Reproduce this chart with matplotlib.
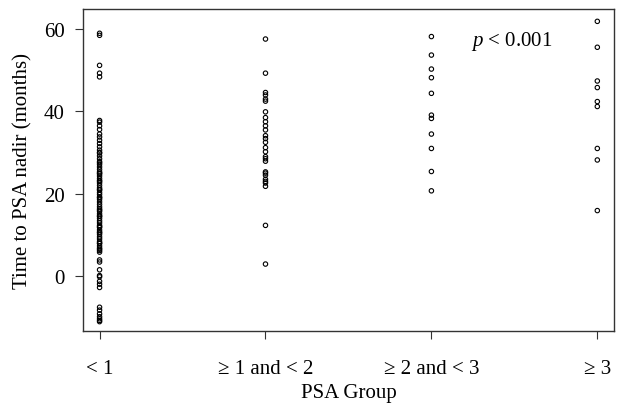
import numpy as np
import matplotlib.pyplot as plt

plt.rcParams['font.family'] = ['Liberation Serif', 'DejaVu Serif']
plt.rcParams['mathtext.fontset'] = 'custom'
plt.rcParams['mathtext.it'] = 'Liberation Serif:italic'
plt.rcParams['mathtext.rm'] = 'Liberation Serif'

# Groups and values (months to PSA nadir)
grupos = ['< 1', '≥ 1 and < 2', '≥ 2 and < 3', '≥ 3']

g0 = [59.0, 58.5, 51.2, 49.3, 48.4, 37.8, 37.4, 36.5, 35.6, 34.5, 33.8, 33.0,
      32.2, 31.4, 30.6, 29.9, 29.2, 28.5, 27.8, 27.1, 26.5, 25.9, 25.3, 24.8,
      24.3, 23.7, 23.2, 22.6, 22.0, 21.4, 20.9, 20.3, 19.8, 19.2, 18.6, 18.0,
      17.4, 16.8, 16.3, 15.7, 15.1, 14.6, 14.0, 13.4, 12.9, 12.3, 11.8, 11.2,
      10.7, 10.1, 9.5, 9.0, 8.4, 7.9, 7.3, 6.8, 6.2, 5.8, 3.9, 3.4, 1.5, 0.1,
      -0.2, -1.3, -2.0, -2.8, -7.6, -8.3, -9.2, -9.9, -10.4, -10.8, -11.1,
      25.0, 23.0, 21.0, 16.0, 12.0, 8.0, 27.5, 30.0, 19.0, 14.5, 10.5, 6.5]
g1 = [57.6, 49.3, 44.6, 44.0, 43.0, 42.5, 39.9, 38.5, 37.5, 36.5, 35.5, 34.1,
      33.4, 32.5, 31.2, 30.2, 29.0, 28.5, 27.9, 25.3, 25.0, 24.5, 23.5, 23.0,
      22.6, 21.8, 12.3, 2.9]
g2 = [58.2, 53.7, 50.3, 48.2, 44.4, 39.1, 38.3, 34.5, 31.0, 25.4, 20.7]
g3 = [61.9, 55.6, 47.4, 45.8, 42.4, 41.2, 31.0, 28.2, 15.9]

dados = [g0, g1, g2, g3]

fig = plt.figure(figsize=(6.22, 4.10), dpi=100)
ax = fig.add_axes([0.1334, 0.19, 0.8536, 0.7856])

for i, vals in enumerate(dados):
    ax.scatter(np.full(len(vals), i), vals, s=10, facecolors='none',
               edgecolors='black', linewidths=0.8)

ax.set_xlim(-0.1, 3.1)
ax.set_ylim(-13.4, 64.9)
ax.set_xticks(range(4))
ax.set_xticklabels(grupos)
ax.set_yticks([0, 20, 40, 60])
ax.tick_params(labelsize=15, length=6, color='#333333', pad=7)
ax.tick_params(axis='x', pad=14)
for s in ax.spines.values():
    s.set_color('#333333')
    s.set_linewidth(1.0)

ax.set_xlabel('PSA Group', fontsize=15, labelpad=4)
ax.set_ylabel('Time to PSA nadir (months)', fontsize=15, labelpad=8)
ax.text(2.24, 57.3, '$\\it{p}$ < 0.001', fontsize=15, va='center')

fig.savefig('out.png', dpi=100)
